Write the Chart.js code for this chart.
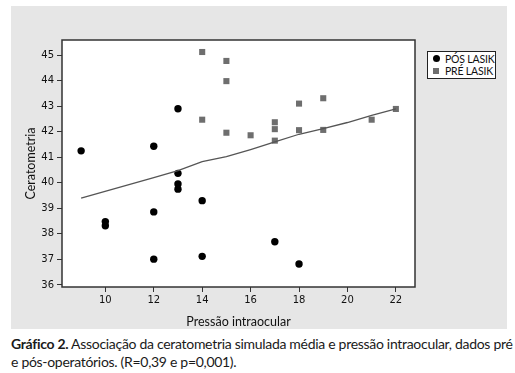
<!DOCTYPE html>
<html>
<head>
<meta charset="utf-8">
<title>Ceratometria x Pressão intraocular</title>
<script src="https://cdn.jsdelivr.net/npm/chart.js"></script>
<style>
    body { margin: 0; background: #fff; width: 515px; height: 373px; position: relative; overflow: hidden; }
    #panel { position: absolute; left: 11px; top: 6px; width: 496px; height: 323px; background: #e6e6e6; }
    #legend { position: absolute; left: 416px; top: 45px; width: 67px; height: 26px; background: #fff;
        border: 1.5px solid #222; font-family: Lato, sans-serif; font-size: 10.5px; color: #111; }
    #legend .row { position: absolute; left: 0; height: 12px; line-height: 12px; white-space: nowrap; }
    #legend .dot { position: absolute; left: 5px; top: 2px; width: 7px; height: 7px; border-radius: 50%; background: #000; }
    #legend .sq { position: absolute; left: 5px; top: 3px; width: 6px; height: 6px; background: #6e6e6e; }
    #legend .lbl { position: absolute; left: 17px; top: 0; letter-spacing: -0.2px; }
    #caption { position: absolute; left: 11px; top: 335px; width: 497px; font-family: Lato, sans-serif;
        font-size: 14px; color: #1a1a1a; line-height: 18px; letter-spacing: -0.3px; }
    #caption .l1 { text-align: justify; text-align-last: justify; white-space: nowrap; }
</style>
</head>
<body>
<div id="panel">
    <canvas id="chart" width="496" height="323"></canvas>
    <div id="legend">
        <div class="row" style="top:1px"><span class="dot"></span><span class="lbl">PÓS LASIK</span></div>
        <div class="row" style="top:13px"><span class="sq"></span><span class="lbl">PRÉ LASIK</span></div>
    </div>
</div>
<div id="caption">
    <div class="l1"><b>Gráfico 2.</b> Associação da ceratometria simulada média e pressão intraocular, dados pré</div>
    <div>e pós-operatórios. (R=0,39 e p=0,001).</div>
</div>
<script>
    // pós LASIK (círculos pretos)
    var posX = [9, 10, 10, 12, 12, 12, 13, 13, 13, 13, 14, 14, 17, 18];
    var posY = [41.25, 38.48, 38.32, 41.43, 38.86, 37.01, 42.9, 40.37, 39.95, 39.75, 39.3, 37.12, 37.69, 36.82];

    // pré LASIK (quadrados cinza)
    var preX = [14, 14, 15, 15, 15, 16, 17, 17, 17, 18, 18, 19, 19, 21, 22];
    var preY = [45.12, 42.47, 44.77, 43.98, 41.96, 41.86, 42.37, 42.1, 41.65, 43.1, 42.06, 43.31, 42.07, 42.47, 42.89];

    // linha de ajuste
    var fitX = [9, 12, 13, 14, 15, 16, 17, 18, 19, 20, 21, 22];
    var fitY = [39.4, 40.2, 40.48, 40.83, 41.02, 41.3, 41.6, 41.9, 42.12, 42.36, 42.64, 42.89];

    var xTicks = [10, 12, 14, 16, 18, 20, 22];
    var yTicks = [36, 37, 38, 39, 40, 41, 42, 43, 44, 45];

    function toPoints(xs, ys) {
        return xs.map(function (x, i) { return { x: x, y: ys[i] }; });
    }

    var frame = {
        id: 'frame',
        beforeDatasetsDraw: function (chart) {
            var a = chart.chartArea, ctx = chart.ctx;
            ctx.save();
            ctx.fillStyle = '#fff';
            ctx.fillRect(a.left, a.top, a.right - a.left, a.bottom - a.top);
            ctx.restore();
        },
        afterDatasetsDraw: function (chart) {
            var a = chart.chartArea, ctx = chart.ctx;
            ctx.save();
            ctx.strokeStyle = '#333';
            ctx.lineWidth = 1.5;
            ctx.strokeRect(a.left, a.top, a.right - a.left, a.bottom - a.top);
            ctx.restore();
        }
    };

    var tickFont = { family: 'DejaVu Sans', size: 10 };

    new Chart(document.getElementById('chart').getContext('2d'), {
        type: 'scatter',
        data: {
            datasets: [{
                label: 'ajuste',
                data: toPoints(fitX, fitY),
                showLine: true,
                borderColor: '#555',
                borderWidth: 1.3,
                pointRadius: 0,
                fill: false
            }, {
                label: 'PÓS LASIK',
                data: toPoints(posX, posY),
                backgroundColor: '#000',
                borderColor: '#000',
                pointRadius: 3.7,
                borderWidth: 0
            }, {
                label: 'PRÉ LASIK',
                data: toPoints(preX, preY),
                pointStyle: 'rect',
                backgroundColor: '#6e6e6e',
                borderColor: '#6e6e6e',
                pointRadius: 4.3,
                borderWidth: 0
            }]
        },
        options: {
            responsive: false,
            animation: false,
            layout: { padding: { top: 34, right: 92, left: 0, bottom: 0 } },
            plugins: { legend: { display: false }, tooltip: { enabled: false } },
            scales: {
                x: {
                    min: 8.21,
                    max: 22.79,
                    afterBuildTicks: function (s) { s.ticks = xTicks.map(function (v) { return { value: v }; }); },
                    afterFit: function (s) { s.height = 42; },
                    grid: { drawOnChartArea: false, tickLength: 5, tickColor: '#333', tickWidth: 1 },
                    border: { display: false },
                    ticks: { color: '#111', font: tickFont, padding: 2, maxRotation: 0 },
                    title: { display: true, text: 'Pressão intraocular', color: '#111',
                        font: { family: 'Lato', size: 12.5 }, padding: { top: 1, bottom: 0 } }
                },
                y: {
                    min: 35.92,
                    max: 45.59,
                    afterBuildTicks: function (s) { s.ticks = yTicks.map(function (v) { return { value: v }; }); },
                    afterFit: function (s) { s.width = 51; },
                    grid: { drawOnChartArea: false, tickLength: 5, tickColor: '#333', tickWidth: 1 },
                    border: { display: false },
                    ticks: { color: '#111', font: tickFont, padding: 3 },
                    title: { display: true, text: 'Ceratometria', color: '#111',
                        font: { family: 'Lato', size: 12.5 }, padding: { top: 12, bottom: 0 } }
                }
            }
        },
        plugins: [frame]
    });
</script>
</body>
</html>
